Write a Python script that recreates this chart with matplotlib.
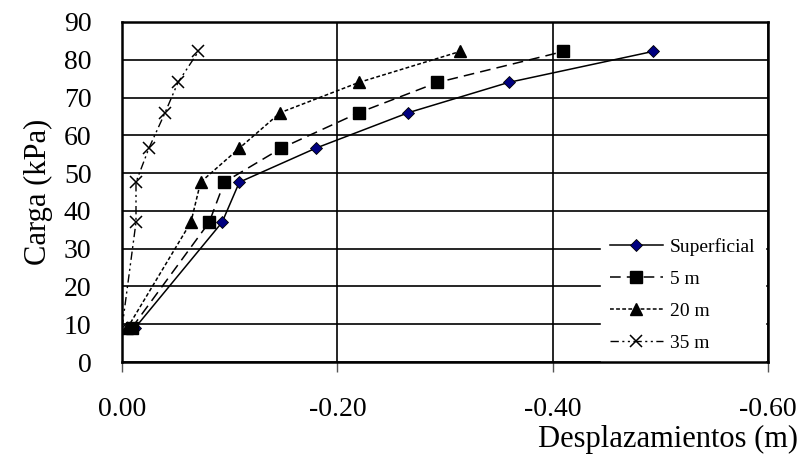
import numpy as np
import matplotlib.pyplot as plt

plt.rcParams['font.family'] = ['Liberation Serif', 'DejaVu Serif']

# Data
carga = [9.0, 37.0, 47.6, 56.6, 66.0, 74.0, 82.2]
desp_sup = [-0.012, -0.093, -0.109, -0.180, -0.266, -0.359, -0.493]
desp_5m = [-0.009, -0.081, -0.095, -0.148, -0.220, -0.293, -0.410]
desp_20m = [-0.005, -0.064, -0.073, -0.109, -0.147, -0.220, -0.314]
desp_35m = [0.000, -0.013, -0.013, -0.025, -0.040, -0.052, -0.071]
series_labels = ['Superficial', '5 m', '20 m', '35 m']

x_ticks = [0.0, -0.2, -0.4, -0.6]
y_ticks = list(range(0, 91, 10))

fig = plt.figure(figsize=(8.04, 4.68), dpi=100)
ax = fig.add_axes([122 / 804, 1 - 362 / 468, 646 / 804, 340 / 468])

## Series
ax.plot(desp_sup, carga, color='black', linewidth=1.1, linestyle='-',
        marker='D', markersize=6, markerfacecolor='#000080', markeredgecolor='black',
        markeredgewidth=0.6, label=series_labels[0], zorder=4)
ax.plot(desp_5m, carga, color='black', linewidth=1.1, linestyle=(0, (7, 4)),
        marker='s', markersize=8, markerfacecolor='black', markeredgecolor='black',
        label=series_labels[1], zorder=4)
ax.plot(desp_20m, carga, color='black', linewidth=1.1, linestyle=(0, (2.5, 1.5)),
        marker='^', markersize=8, markerfacecolor='black', markeredgecolor='black',
        label=series_labels[2], zorder=4)
ax.plot(desp_35m, carga, color='black', linewidth=1.0, linestyle=(0, (6, 2.5, 1.5, 2.5, 1.5, 2.5)),
        marker='x', markersize=8, markeredgewidth=1.1, label=series_labels[3], zorder=4)

## Axes, ticks, grid
ax.set_xlim(0, -0.6)
ax.set_ylim(0, 90)
ax.set_xticks(x_ticks)
ax.set_xticklabels(['0.00' if v == 0 else '%.2f' % v for v in x_ticks])
ax.set_yticks(y_ticks)
ax.tick_params(axis='x', direction='out', length=7, width=1, color='#555555',
               pad=18, labelsize=20)
ax.tick_params(axis='y', length=0, pad=22, labelsize=20)
ax.grid(True, color='black', linewidth=1.2)
for s in ax.spines.values():
    s.set_linewidth(1.8)
    s.set_color('black')

ax.set_ylabel('Carga (kPa)', fontsize=22, labelpad=8)
ax.set_xlabel('Desplazamientos (m)', fontsize=22, ha='right')
ax.xaxis.set_label_coords((798 - 122) / 646, -0.185)

## Legend: white box without border over the grid, lower right
leg = ax.legend(loc='lower right', bbox_to_anchor=(0.995, 0.0), borderaxespad=0,
                fontsize=14, frameon=True, fancybox=False, edgecolor='white',
                facecolor='white', framealpha=1, handlelength=2.7, handletextpad=0.35,
                labelspacing=0.75, borderpad=0.5)
leg.set_zorder(2)

fig.savefig('out.png', dpi=100)
